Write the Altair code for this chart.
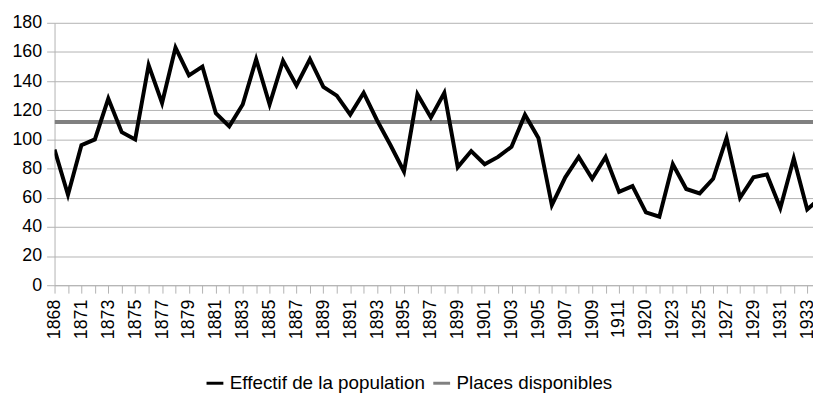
import json
import altair as alt
import pandas as pd

# Category labels (one per data point; every second one is shown on the axis)
years = [
    "1868", "1870", "1871", "1872", "1873", "1874", "1875", "1876", "1877", "1878",
    "1879", "1880", "1881", "1882", "1883", "1884", "1885", "1886", "1887", "1888",
    "1889", "1890", "1891", "1892", "1893", "1894", "1895", "1896", "1897", "1898",
    "1899", "1900", "1901", "1902", "1903", "1904", "1905", "1906", "1907", "1908",
    "1909", "1910", "1911", "1912", "1920", "1922", "1923", "1924", "1925", "1926",
    "1927", "1928", "1929", "1930", "1931", "1932", "1933", "1934",
]

# Effectif de la population
effectif = [
    93, 62, 96, 100, 128, 105, 100, 151, 125, 163,
    144, 150, 118, 109, 124, 155, 124, 154, 137, 155,
    136, 130, 117, 132, 113, 96, 78, 131, 115, 132,
    81, 92, 83, 88, 95, 117, 101, 55, 74, 88,
    73, 88, 64, 68, 50, 47, 83, 66, 63, 73,
    101, 60, 74, 76, 53, 87, 52, 60,
]

# Places disponibles (constant capacity)
PLACES = 112

SERIES = ["Effectif de la population", "Places disponibles"]
COLORS = ["#000000", "#808080"]

X_VISIBLE = 56.43  # visible extent of the category axis (last point is cut by the frame)

n = len(years)
idx = list(range(n))
df_eff = pd.DataFrame({"i": idx, "value": effectif, "series": SERIES[0]})
df_pl = pd.DataFrame({"i": idx, "value": [PLACES] * n, "series": SERIES[1]})

tick_values = [i for i in idx if i <= X_VISIBLE]
label_expr = "datum.value % 2 == 0 ? " + json.dumps(years) + "[datum.value] : ''"

FONT = "Liberation Sans"
GRID = "#b3b3b3"

x_enc = alt.X(
    "i:Q",
    scale=alt.Scale(domain=[0, X_VISIBLE], nice=False, zero=False),
    axis=alt.Axis(
        values=tick_values,
        labelExpr=label_expr,
        labelAngle=-90,
        labelOverlap=False,
        labelFlush=False,
        labelBound=False,
        labelFont=FONT,
        labelFontSize=18,
        labelColor="#000000",
        grid=False,
        tickSize=8,
        tickColor=GRID,
        tickWidth=1,
        domainColor=GRID,
        domainWidth=1,
        labelPadding=6,
        title=None,
    ),
)
y_enc = alt.Y(
    "value:Q",
    scale=alt.Scale(domain=[0, 180], nice=False),
    axis=alt.Axis(
        values=list(range(0, 181, 20)),
        grid=True,
        gridColor=GRID,
        gridWidth=1,
        labelFont=FONT,
        labelFontSize=18,
        labelColor="#000000",
        tickSize=8,
        tickColor=GRID,
        tickWidth=1,
        domainColor=GRID,
        domainWidth=1,
        labelPadding=5,
        title=None,
    ),
)
color_enc = alt.Color(
    "series:N",
    scale=alt.Scale(domain=SERIES, range=COLORS),
    legend=alt.Legend(
        title=None,
        orient="none",
        direction="horizontal",
        legendX=152,
        legendY=354,
        symbolType="stroke",
        symbolSize=289,
        symbolStrokeWidth=3,
        labelOffset=5,
        columnPadding=1,
        padding=0,
        labelFontSize=19,
        labelFont=FONT,
        labelColor="#000000",
        labelLimit=0,
    ),
)

places_layer = alt.Chart(df_pl).mark_line(strokeWidth=4, clip=True).encode(
    x=x_enc, y=y_enc, color=color_enc
)
eff_layer = alt.Chart(df_eff).mark_line(strokeWidth=4, clip=True).encode(
    x=x_enc, y=y_enc, color=color_enc
)

chart = (
    alt.layer(places_layer, eff_layer)
    .properties(
        width=766,
        height=265,
        background="#ffffff",
        autosize=alt.AutoSizeParams(type="none"),
        padding={"left": 47, "top": 13, "right": 0, "bottom": 117},
    )
    .configure_view(stroke=None)
)

chart.save("out.html", embed_options={"renderer": "svg", "actions": False})
